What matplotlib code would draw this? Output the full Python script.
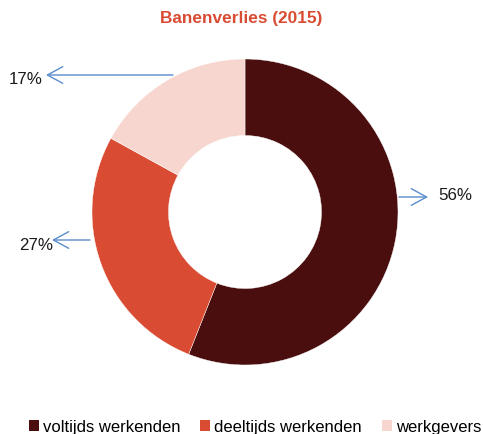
import matplotlib
matplotlib.use("Agg")
import matplotlib.pyplot as plt
from matplotlib.patches import Patch

plt.rcParams['font.family'] = ['Liberation Sans', 'DejaVu Sans']

title = "Banenverlies (2015)"
categories = ["voltijds werkenden", "deeltijds werkenden", "werkgevers"]
values = [56, 27, 17]
labels = ["56%", "27%", "17%"]
colors = ["#4a0e0e", "#d94c33", "#f7d6d0"]

W, H = 483, 435
fig = plt.figure(figsize=(W / 100, H / 100), dpi=100)
ax = fig.add_axes([0, 0, 1, 1])
ax.set_xlim(0, W)
ax.set_ylim(0, H)
ax.set_aspect('equal')
ax.axis('off')

cx, cy = 245, H - 213
R = 153
ax.pie(values, colors=colors, startangle=90, counterclock=False,
       center=(cx, cy), radius=R,
       wedgeprops=dict(width=R - 76.5, edgecolor='white', linewidth=0.3))
ax.set_xlim(0, W)
ax.set_ylim(0, H)

fig.text(241 / W, 1 - 18 / H, title, ha='center', va='center',
         fontsize=12.4, fontweight='bold', color='#d94c33')

arrow_col = '#5b8ccc'
# (label, arrow start, arrow end, text position)
ann = [
    (labels[0], (399, 198), (428, 198), (438, 196), 'left'),
    (labels[1], (90, 241), (52, 241), (53, 246), 'right'),
    (labels[2], (173, 76), (46, 76), (43, 79), 'right'),
]
for lab, s, e, t, ha in ann:
    ax.annotate('', xy=(e[0], H - e[1]), xytext=(s[0], H - s[1]),
                arrowprops=dict(arrowstyle='->,head_length=0.55,head_width=0.3',
                                color=arrow_col, lw=1.0,
                                mutation_scale=20, shrinkA=0, shrinkB=0))
    ax.text(t[0], H - t[1], lab, ha=ha, va='center', fontsize=12.2, color='#1a1a1a')

handles = [Patch(facecolor=c, edgecolor='none') for c in colors]
fig.legend(handles, categories, loc='center', bbox_to_anchor=(255 / W, 1 - 428 / H),
           ncol=3, frameon=False, fontsize=12, handlelength=0.6, handleheight=0.6,
           handletextpad=0.25, columnspacing=1.2, borderpad=0, borderaxespad=0)

fig.savefig("out.png", dpi=100)
